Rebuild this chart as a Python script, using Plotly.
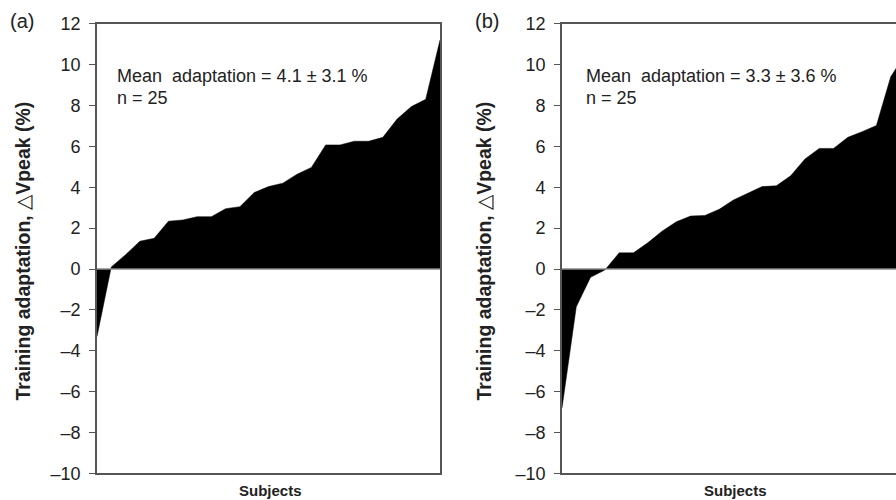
import plotly.graph_objects as go

subjects = list(range(25))
adapt_a = [-3.3, 0.1, 0.7, 1.36, 1.5, 2.34, 2.4, 2.56, 2.56, 2.95, 3.05, 3.74, 4.03, 4.2,
           4.64, 4.97, 6.07, 6.07, 6.25, 6.25, 6.44, 7.34, 7.95, 8.3, 11.2]
adapt_b = [-6.8, -1.85, -0.4, -0.05, 0.79, 0.79, 1.28, 1.85, 2.31, 2.59, 2.62, 2.92, 3.38,
           3.69, 4.03, 4.07, 4.56, 5.38, 5.9, 5.9, 6.44, 6.72, 7.02, 9.4, 10.5]
y_ticks = [12, 10, 8, 6, 4, 2, 0, -2, -4, -6, -8, -10]
y_ticktext = ["12", "10", "8", "6", "4", "2", "0", "–2", "–4", "–6", "–8", "–10"]
text_a = ["Mean  adaptation = 4.1 ± 3.1 %", "n = 25"]
text_b = ["Mean  adaptation = 3.3 ± 3.6 %", "n = 25"]
ytitle = "<b>Training adaptation, </b>△<b>Vpeak (%)</b>"

W, H = 896, 500
# vertical calibration of the capture (observed = SY * page_y + OY)
SY, OY = 0.967, 8.7


def fx(px):
    return px / W


def fy(py):
    return 1 - ((py - OY) / SY) / H


fig = go.Figure()
fig.add_trace(go.Scatter(x=subjects, y=adapt_a, mode="lines", fill="tozeroy",
                         line=dict(color="black", width=0.5), fillcolor="black",
                         xaxis="x", yaxis="y", showlegend=False, hoverinfo="skip"))
fig.add_trace(go.Scatter(x=subjects, y=adapt_b, mode="lines", fill="tozeroy",
                         line=dict(color="black", width=0.5), fillcolor="black",
                         xaxis="x2", yaxis="y2", showlegend=False, hoverinfo="skip"))

font = dict(family="Liberation Sans, Arial, sans-serif", color="#222")
axis_col = "#555"
ydom = [fy(475.5), fy(22.5)]
ycommon = dict(range=[-10, 12], tickvals=y_ticks, ticktext=y_ticktext, ticks="outside",
               ticklen=6, tickwidth=1.2,
               tickcolor=axis_col, showline=True, linecolor=axis_col, linewidth=1.6,
               showgrid=False, zeroline=False, tickfont=dict(size=18, color="#222"),
               domain=ydom, ticklabelstandoff=5)
xcommon = dict(showticklabels=False, ticks="", showgrid=False, zeroline=False,
               showline=True, linecolor=axis_col, linewidth=1.6, mirror=True)

px_per = (440 - 97) / 24
fig.update_layout(
    width=W, height=H, margin=dict(l=0, r=0, t=0, b=0),
    plot_bgcolor="white", paper_bgcolor="white", font=font,
    xaxis=dict(domain=[fx(97), fx(440)], range=[0, 24], anchor="y", **xcommon),
    yaxis=dict(anchor="x", mirror=True, **ycommon),
    xaxis2=dict(domain=[fx(562), 1.0], range=[0, (W - 562) / px_per], anchor="y2", **xcommon),
    yaxis2=dict(anchor="x2", mirror=False, **ycommon),
)

for xr, yr in (("x", "y"), ("x2", "y2")):
    fig.add_shape(type="line", xref=f"{xr} domain", yref=yr, x0=0, x1=1, y0=0, y1=0,
                  line=dict(color="#888", width=1.5), layer="above")

ann = []
for xpix, lines in ((115, text_a), (584, text_b)):
    ann.append(dict(x=fx(xpix), y=fy(75), xref="paper", yref="paper", xanchor="left",
                    yanchor="middle", text=lines[0], showarrow=False,
                    font=dict(size=18, color="#222")))
    ann.append(dict(x=fx(xpix), y=fy(97.5), xref="paper", yref="paper", xanchor="left",
                    yanchor="middle", text=lines[1], showarrow=False,
                    font=dict(size=18, color="#222")))
for xpix in (23, 484):
    ann.append(dict(x=fx(xpix), y=fy(252), xref="paper", yref="paper", xanchor="center",
                    yanchor="middle", text=ytitle, textangle=-90, showarrow=False,
                    font=dict(size=19.5, color="#222")))
for xpix in (270, 735):
    ann.append(dict(x=fx(xpix), y=fy(493), xref="paper", yref="paper", xanchor="center",
                    yanchor="middle", text="<b>Subjects</b>", showarrow=False,
                    font=dict(size=15, color="#222")))
for xpix, lab in ((22, "(a)"), (487, "(b)")):
    ann.append(dict(x=fx(xpix), y=fy(20), xref="paper", yref="paper", xanchor="center",
                    yanchor="middle", text=lab, showarrow=False,
                    font=dict(size=20, color="#222")))
fig.update_layout(annotations=ann)

fig.write_html("out.html", config={"displayModeBar": False},
               post_script="document.body.style.margin='0px';"
                           "document.body.style.overflow='hidden';")
